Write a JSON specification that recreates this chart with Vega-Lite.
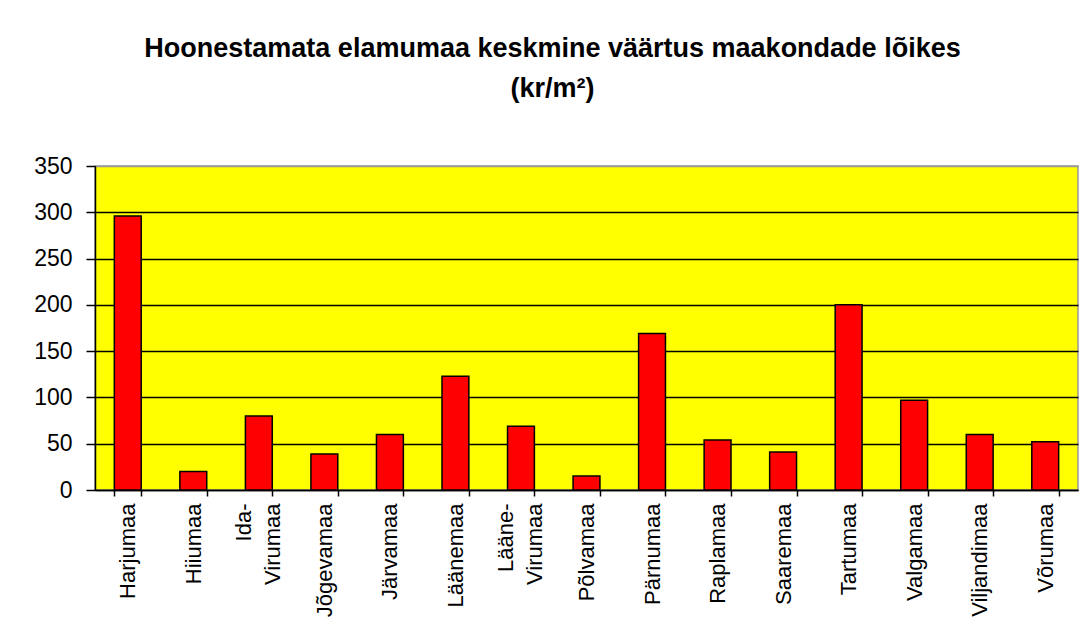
{
  "$schema": "https://vega.github.io/schema/vega-lite/v6.json",
  "autosize": "none",
  "width": 983,
  "height": 324,
  "padding": {"left": 95, "top": 166, "right": 6, "bottom": 143},
  "background": "white",
  "title": {
    "text": ["Hoonestamata elamumaa keskmine väärtus maakondade lõikes", "(kr/m²)"],
    "font": "Liberation Sans",
    "fontSize": 27,
    "fontWeight": "bold",
    "color": "black",
    "lineHeight": 40,
    "anchor": "middle",
    "dx": -34,
    "offset": 52
  },
  "data": {
    "values": [
      {"maakond": "Harjumaa", "vaartus": 296},
      {"maakond": "Hiiumaa", "vaartus": 20},
      {"maakond": "Ida-Virumaa", "vaartus": 80},
      {"maakond": "Jõgevamaa", "vaartus": 39},
      {"maakond": "Järvamaa", "vaartus": 60},
      {"maakond": "Läänemaa", "vaartus": 123},
      {"maakond": "Lääne-Virumaa", "vaartus": 69},
      {"maakond": "Põlvamaa", "vaartus": 15},
      {"maakond": "Pärnumaa", "vaartus": 169},
      {"maakond": "Raplamaa", "vaartus": 54},
      {"maakond": "Saaremaa", "vaartus": 41},
      {"maakond": "Tartumaa", "vaartus": 200},
      {"maakond": "Valgamaa", "vaartus": 97},
      {"maakond": "Viljandimaa", "vaartus": 60},
      {"maakond": "Võrumaa", "vaartus": 52}
    ]
  },
  "mark": {"type": "bar", "color": "#FF0000", "stroke": "black", "strokeWidth": 1.5},
  "encoding": {
    "x": {
      "field": "maakond",
      "type": "nominal",
      "sort": null,
      "scale": {"paddingInner": 0.59, "paddingOuter": 0.295},
      "axis": {
        "title": null,
        "labelAngle": -90,
        "labelFont": "Liberation Sans",
        "labelFontSize": 22,
        "labelColor": "black",
        "labelLineHeight": 29,
        "labelExpr": "datum.label == 'Ida-Virumaa' ? ['Ida-', 'Virumaa'] : datum.label == 'Lääne-Virumaa' ? ['Lääne-', 'Virumaa'] : datum.label",
        "labelBaseline": {"condition": {"test": "datum.value == 'Ida-Virumaa' || datum.value == 'Lääne-Virumaa'", "value": "line-bottom"}, "value": "middle"},
        "tickBand": "extent",
        "tickSize": 6,
        "tickColor": "black",
        "tickWidth": 1.5,
        "labelPadding": 7,
        "domainColor": "black",
        "domainWidth": 1.5,
        "grid": false
      }
    },
    "y": {
      "field": "vaartus",
      "type": "quantitative",
      "scale": {"domain": [0, 350], "nice": false},
      "axis": {
        "title": null,
        "values": [0, 50, 100, 150, 200, 250, 300, 350],
        "labelFont": "Liberation Sans",
        "labelFontSize": 23,
        "labelColor": "black",
        "labelPadding": 14,
        "tickSize": 9,
        "tickColor": "black",
        "tickWidth": 1.5,
        "domainColor": "black",
        "domainWidth": 1.5,
        "grid": true,
        "gridColor": {"condition": {"test": "datum.value === 350", "value": "#999999"}, "value": "black"},
        "gridWidth": 1.5,
        "gridOpacity": 1
      }
    }
  },
  "config": {
    "view": {"fill": "#FFFF00", "stroke": "#999999", "strokeWidth": 1.5}
  }
}
